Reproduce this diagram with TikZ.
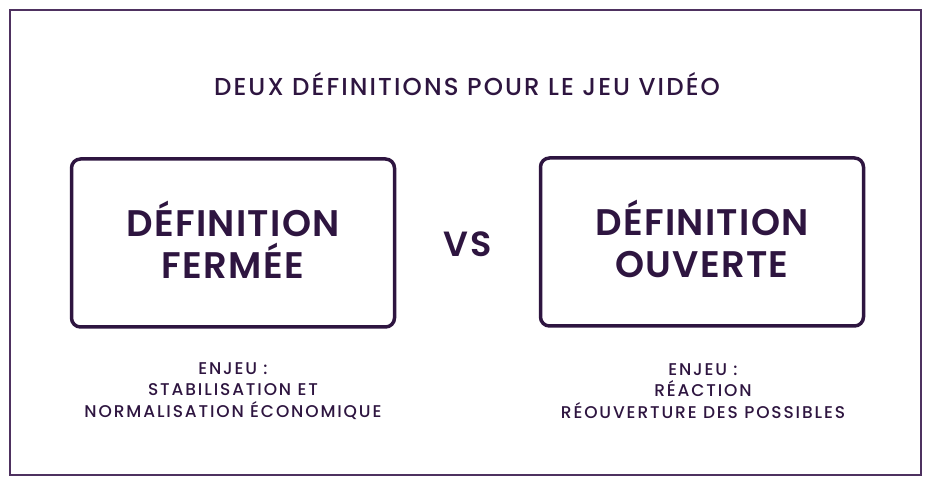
\documentclass[tikz,border=0pt]{standalone}
\usepackage{fontspec}
\setmainfont{Poppins}[UprightFont=* Medium, BoldFont=* SemiBold]
\usetikzlibrary{positioning}
\definecolor{plum}{HTML}{2E1540}
\definecolor{frame}{HTML}{4E3160}

\begin{document}
\begin{tikzpicture}[
  x=1pt, y=-1pt,
  defbox/.style={draw=plum, line width=3.5pt, rounded corners=9pt, minimum width=323pt,
                 minimum height=168pt, align=center, text=plum, text depth=6pt,
                 font=\addfontfeatures{LetterSpace=3.5}\fontsize{37}{42}\selectfont\bfseries},
  enjeu/.style={align=center, text=plum,
                font=\addfontfeatures{LetterSpace=11}\fontsize{17}{21.5}\selectfont}
]
  \useasboundingbox (0,0) rectangle (932,486);
  \draw[frame, line width=1.6pt] (10,10) rectangle (921,475);

  \node[text=plum, font=\addfontfeatures{LetterSpace=8.6}\fontsize{24.5}{28}\selectfont] (title) at (467,84) {DEUX DÉFINITIONS POUR LE JEU VIDÉO};

  \node[defbox] (fermee)  at (233,243) {DÉFINITION\\FERMÉE};
  \node[defbox] (ouverte) at (702,242) {DÉFINITION\\OUVERTE};
  \node[text=plum, font=\addfontfeatures{LetterSpace=6}\fontsize{35}{38}\selectfont\bfseries] (vs) at (468,244) {VS};

  \node[enjeu] (enjeuF) at (233,391) {ENJEU :\\STABILISATION ET\\NORMALISATION ÉCONOMIQUE};
  \node[enjeu] (enjeuO) at (703,391) {ENJEU :\\RÉACTION\\RÉOUVERTURE DES POSSIBLES};
\end{tikzpicture}
\end{document}
